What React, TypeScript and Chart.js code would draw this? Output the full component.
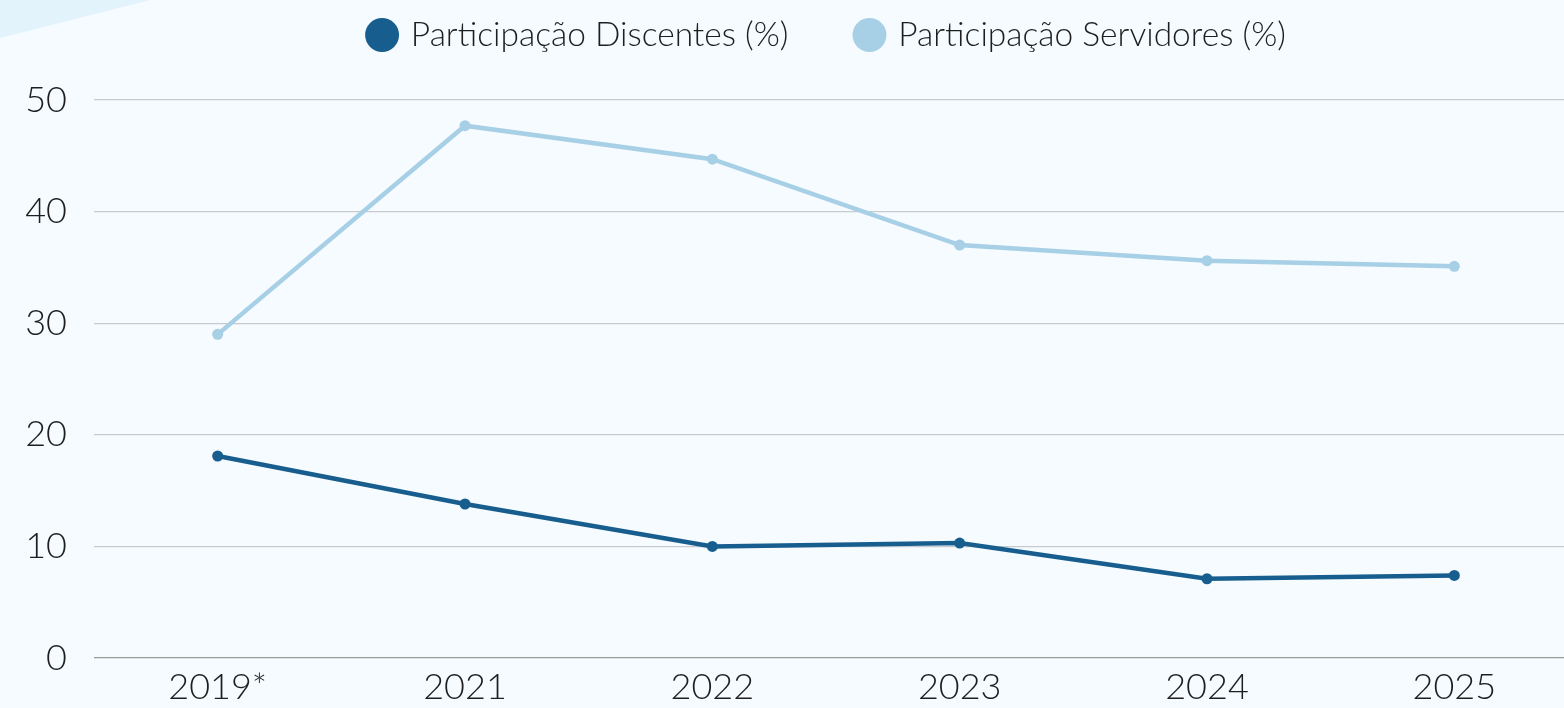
import React, { useEffect, useRef } from "react";
import { Chart, registerables } from "chart.js";

Chart.register(...registerables);

const years = ["2019*", "2021", "2022", "2023", "2024", "2025"];
const discentes = [18.1, 13.8, 10.0, 10.3, 7.1, 7.4];
const servidores = [29.0, 47.7, 44.7, 37.0, 35.6, 35.1];
const yTicks = [0, 10, 20, 30, 40, 50];
const seriesNames = ["Participação Discentes (%)", "Participação Servidores (%)"];

const W = 1656;
const H = 730;
const FONT = "Lato";
const TEXT = "#1e1e1e";
const DARK = "#175e8f";
const LIGHT = "#a7cfe5";
const LEGEND_FS = 33.5;
const LEGEND_PAD = 69;

export default function App() {
  const ref = useRef<HTMLCanvasElement>(null);

  useEffect(() => {
    const chart = new Chart(ref.current as HTMLCanvasElement, {
      type: "line",
      data: {
        labels: years,
        datasets: [
          {
            label: seriesNames[0],
            data: discentes,
            borderColor: DARK,
            backgroundColor: DARK,
            pointBackgroundColor: DARK,
            pointBorderColor: DARK,
            borderWidth: 4.5,
            pointRadius: 5.5,
            pointBorderWidth: 0,
            tension: 0,
          },
          {
            label: seriesNames[1],
            data: servidores,
            borderColor: LIGHT,
            backgroundColor: LIGHT,
            pointBackgroundColor: LIGHT,
            pointBorderColor: LIGHT,
            borderWidth: 4.5,
            pointRadius: 5.5,
            pointBorderWidth: 0,
            tension: 0,
          },
        ],
      },
      options: {
        responsive: false,
        animation: false,
        devicePixelRatio: 1,
        layout: { padding: { top: 35 - LEGEND_PAD - LEGEND_FS / 2, left: 0, right: 0, bottom: 0 } },
        plugins: {
          tooltip: { enabled: false },
          legend: {
            position: "top",
            align: "center",
            labels: {
              usePointStyle: true,
              pointStyle: "circle",
              boxWidth: 24,
              boxHeight: 24,
              padding: LEGEND_PAD,
              color: TEXT,
              font: { family: FONT, size: LEGEND_FS, weight: "300" },
            },
          },
        },
        scales: {
          x: {
            type: "category",
            offset: true,
            grid: { display: false, drawTicks: false },
            border: { display: false },
            ticks: {
              color: TEXT,
              padding: 8,
              maxRotation: 0,
              autoSkip: false,
              font: { family: FONT, size: 36, weight: "300" },
            },
            afterFit: (s: any) => {
              s.height = H - 658;
            },
          },
          y: {
            type: "linear",
            position: "left",
            min: 0,
            max: 50,
            afterBuildTicks: (s: any) => {
              s.ticks = yTicks.map((v) => ({ value: v }));
            },
            grid: {
              drawTicks: false,
              tickLength: 0,
              lineWidth: 1.2,
              color: (c: any) => (c.tick && c.tick.value === 0 ? "#9a9a9a" : "#c7cbcf"),
            },
            border: { display: false },
            ticks: {
              color: TEXT,
              padding: 27,
              font: { family: FONT, size: 36, weight: "300" },
            },
            afterFit: (s: any) => {
              s.width = 94;
            },
          },
          padTop: {
            type: "linear",
            position: "top",
            display: true,
            grid: { display: false, drawTicks: false },
            border: { display: false },
            ticks: { display: false },
            afterFit: (s: any) => {
              s.height = 100 - (35 - LEGEND_PAD - LEGEND_FS / 2) - (LEGEND_FS + LEGEND_PAD + 10);
            },
          },
          padRight: {
            type: "linear",
            position: "right",
            display: true,
            grid: { display: false, drawTicks: false },
            border: { display: false },
            ticks: { display: false },
            afterFit: (s: any) => {
              s.width = W - 1578;
            },
          },
        },
      },
    } as any);
    return () => chart.destroy();
  }, []);

  return (
    <div
      style={{
        position: "fixed",
        left: 0,
        top: 0,
        width: 1564,
        height: 708,
        overflow: "hidden",
        background: "#f5fbfe",
      }}
    >
      <div
        style={{
          position: "absolute",
          left: 0,
          top: 0,
          width: 160,
          height: 40,
          background: "#e2f3fc",
          clipPath: "polygon(0 0, 150px 0, 0 38px)",
        }}
      />
      <canvas
        ref={ref}
        width={W}
        height={H}
        style={{ position: "absolute", left: 0, top: 0, width: W, height: H }}
      />
    </div>
  );
}
